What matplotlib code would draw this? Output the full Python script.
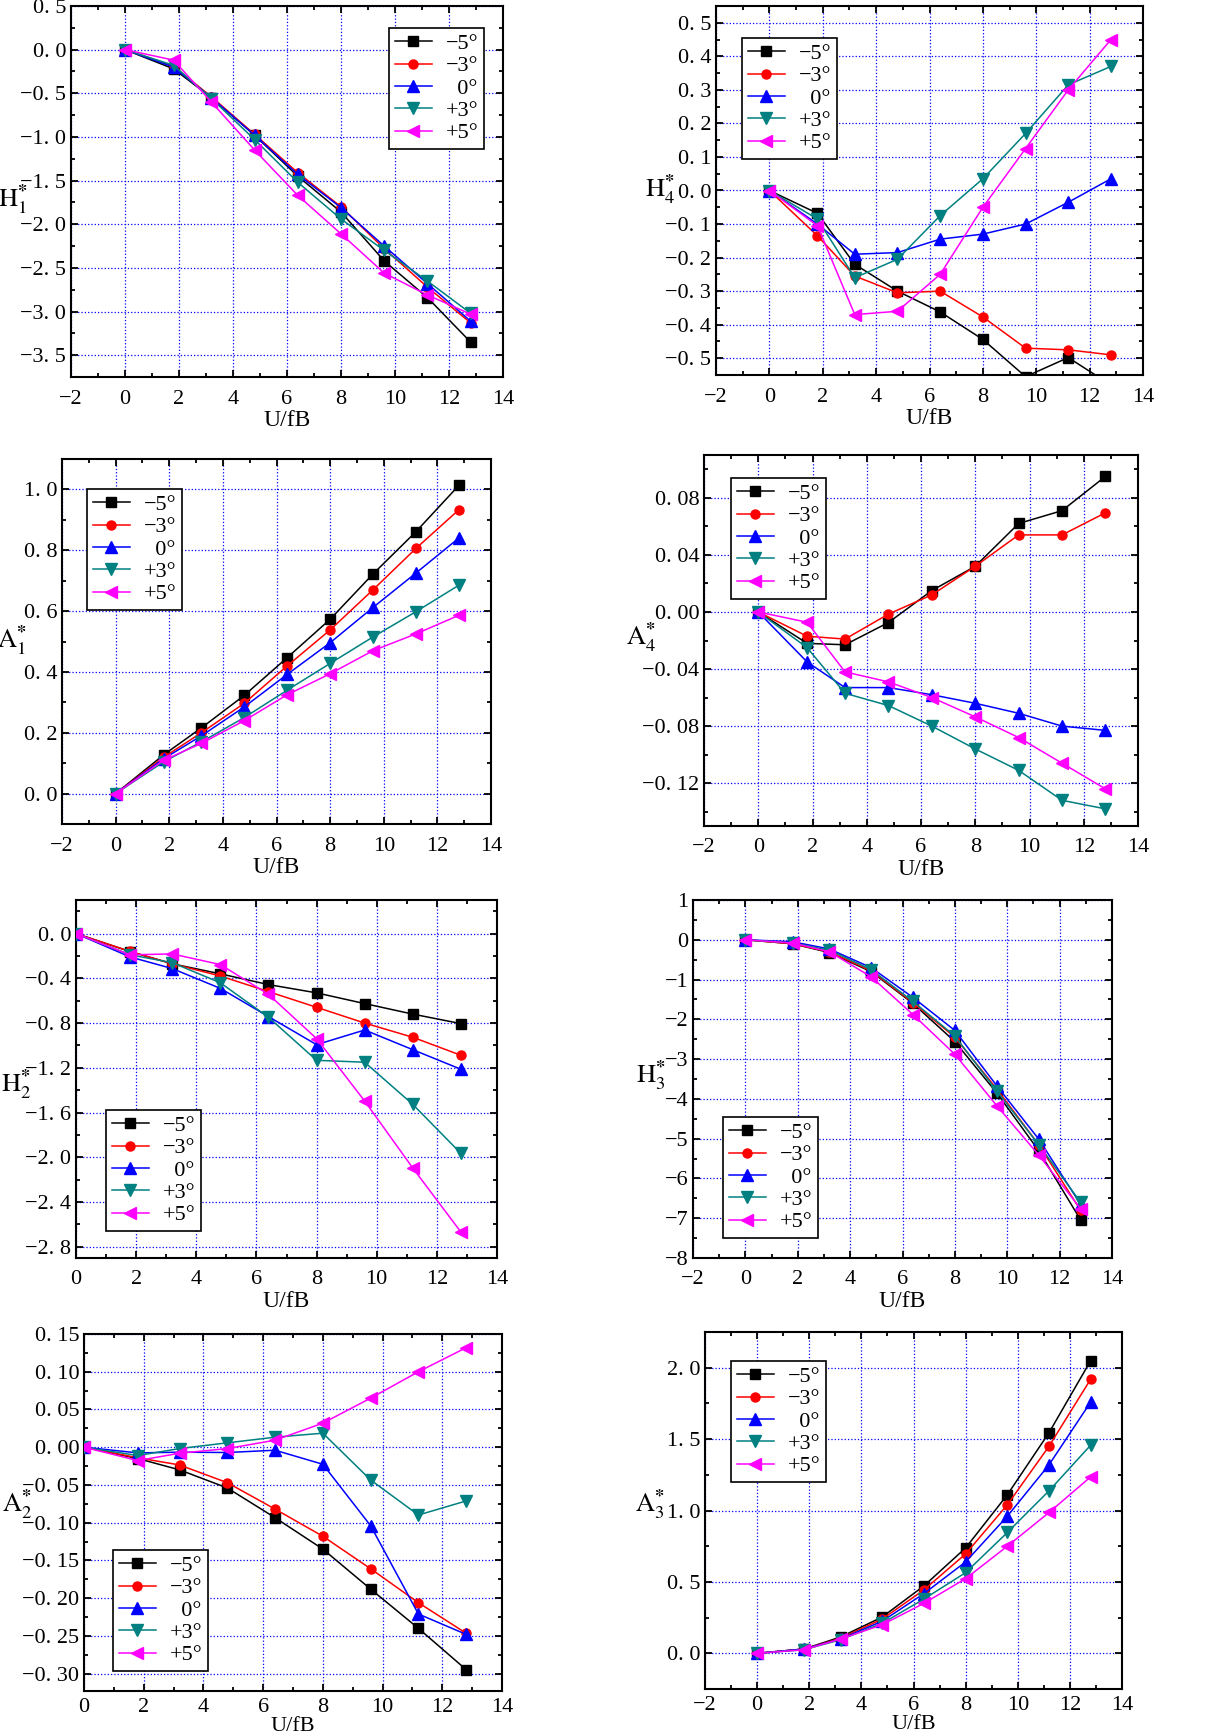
import matplotlib
matplotlib.use("Agg")
import matplotlib.pyplot as plt
from matplotlib.ticker import MultipleLocator, FuncFormatter

plt.rcParams.update({
    "font.family": "Liberation Serif",
    "mathtext.fontset": "stix",
    "font.size": 15,
})

# ---------------------------------------------------------------- data
U = [0, 1.8, 3.2, 4.8, 6.4, 8.0, 9.6, 11.2, 12.8]
LABELS = ["\u22125\u00b0", "\u22123\u00b0", "  0\u00b0", "+3\u00b0", "+5\u00b0"]

H1 = {
    "m5": [0, -0.22, -0.55, -0.98, -1.45, -1.86, -2.42, -2.84, -3.35],
    "m3": [0, -0.19, -0.54, -0.97, -1.41, -1.80, -2.28, -2.72, -3.13],
    "z0": [0, -0.20, -0.55, -0.98, -1.43, -1.81, -2.25, -2.68, -3.11],
    "p3": [0, -0.18, -0.56, -1.03, -1.52, -1.94, -2.30, -2.65, -3.02],
    "p5": [0, -0.12, -0.60, -1.15, -1.67, -2.11, -2.56, -2.81, -3.03],
}
H4 = {
    "m5": [0, -0.068, -0.22, -0.30, -0.362, -0.444, -0.555, -0.498, -0.58],
    "m3": [0, -0.135, -0.255, -0.305, -0.30, -0.377, -0.47, -0.475, -0.49],
    "z0": [0, -0.10, -0.19, -0.185, -0.145, -0.13, -0.10, -0.035, 0.035],
    "p3": [0, -0.085, -0.26, -0.205, -0.075, 0.035, 0.17, 0.315, 0.37],
    "p5": [0, -0.105, -0.37, -0.36, -0.25, -0.05, 0.125, 0.30, 0.45],
}
A1 = {
    "m5": [0, 0.128, 0.216, 0.323, 0.447, 0.573, 0.722, 0.861, 1.013],
    "m3": [0, 0.12, 0.20, 0.297, 0.42, 0.538, 0.67, 0.806, 0.933],
    "z0": [0, 0.115, 0.19, 0.285, 0.392, 0.496, 0.612, 0.725, 0.84],
    "p3": [0, 0.105, 0.17, 0.25, 0.34, 0.428, 0.515, 0.598, 0.685],
    "p5": [0, 0.11, 0.165, 0.24, 0.325, 0.394, 0.47, 0.525, 0.586],
}
A4 = {
    "m5": [0, -0.022, -0.023, -0.0074, 0.015, 0.032, 0.062, 0.071, 0.095],
    "m3": [0, -0.017, -0.019, -0.0015, 0.012, 0.032, 0.054, 0.054, 0.0695],
    "z0": [0, -0.035, -0.053, -0.053, -0.058, -0.064, -0.071, -0.080, -0.083],
    "p3": [0, -0.025, -0.057, -0.0656, -0.080, -0.096, -0.111, -0.132, -0.138],
    "p5": [0, -0.0072, -0.042, -0.049, -0.060, -0.0735, -0.088, -0.106, -0.124],
}
H2 = {
    "m5": [0, -0.161, -0.27, -0.36, -0.456, -0.53, -0.626, -0.72, -0.805],
    "m3": [0, -0.16, -0.27, -0.379, -0.519, -0.659, -0.80, -0.927, -1.088],
    "z0": [0, -0.209, -0.313, -0.49, -0.742, -0.993, -0.862, -1.038, -1.213],
    "p3": [0, -0.19, -0.26, -0.44, -0.748, -1.133, -1.15, -1.527, -1.965],
    "p5": [0, -0.19, -0.182, -0.277, -0.543, -0.939, -1.497, -2.096, -2.668],
}
H3 = {
    "m5": [0, -0.10, -0.32, -0.80, -1.60, -2.56, -3.85, -5.30, -7.04],
    "m3": [0, -0.10, -0.30, -0.78, -1.58, -2.45, -3.75, -5.15, -6.80],
    "z0": [0, -0.05, -0.23, -0.70, -1.45, -2.28, -3.67, -5.01, -6.65],
    "p3": [0, -0.08, -0.26, -0.75, -1.55, -2.42, -3.80, -5.15, -6.60],
    "p5": [0, -0.08, -0.30, -0.93, -1.88, -2.88, -4.17, -5.41, -6.76],
}
A2 = {
    "m5": [0, -0.015, -0.030, -0.054, -0.0934, -0.135, -0.188, -0.240, -0.2947],
    "m3": [0, -0.014, -0.0235, -0.047, -0.082, -0.118, -0.161, -0.206, -0.2465],
    "z0": [0, -0.0075, -0.0066, -0.007, -0.004, -0.0226, -0.104, -0.221, -0.248],
    "p3": [0, -0.011, -0.0018, 0.0058, 0.0133, 0.0186, -0.0434, -0.0898, -0.0712],
    "p5": [0, -0.0177, -0.008, -0.0018, 0.0093, 0.0319, 0.065, 0.100, 0.1319],
}
A3 = {
    "m5": [0, 0.03, 0.114, 0.254, 0.472, 0.738, 1.11, 1.545, 2.05],
    "m3": [0, 0.03, 0.105, 0.24, 0.444, 0.696, 1.04, 1.45, 1.92],
    "z0": [0, 0.03, 0.10, 0.225, 0.418, 0.64, 0.96, 1.32, 1.76],
    "p3": [0, 0.025, 0.095, 0.21, 0.38, 0.565, 0.846, 1.138, 1.458],
    "p5": [0, 0.025, 0.10, 0.20, 0.35, 0.523, 0.75, 0.986, 1.236],
}

STYLE = {
    "m5": dict(color="black",   marker="s"),
    "m3": dict(color="#ff0000", marker="o"),
    "z0": dict(color="#0000ff", marker="^"),
    "p3": dict(color="#008080", marker="v"),
    "p5": dict(color="#ff00ff", marker="<"),
}

W, H = 1232, 1736

# letter, data, sub, (left, right, top, bottom) px, xlim, ylim, ymajor, ydec,
# legend top-left px, ylabel centre px, bottom-row flag
PANELS = [
    ("H", H1, "1", (71, 503, 6, 377), (-2, 14), (-3.75, 0.5), 0.5, 1, (389, 28), (13, 200), False),
    ("H", H4, "4", (716, 1143, 6, 375), (-2, 14), (-0.55, 0.55), 0.1, 1, (742, 38), (660, 190), False),
    ("A", A1, "1", (62, 491, 459, 824), (-2, 14), (-0.1, 1.1), 0.2, 1, (87, 489), (12, 641), False),
    ("A", A4, "4", (704, 1138, 455, 826), (-2, 14), (-0.15, 0.11), 0.04, 2, (731, 478), (641, 638), False),
    ("H", H2, "2", (76, 497, 900, 1258), (0, 14), (-2.9, 0.3), 0.4, 1, (106, 1110), (16, 1085), False),
    ("H", H3, "3", (693, 1112, 900, 1258), (-2, 14), (-8, 1), 1.0, 0, (723, 1117), (651, 1076), False),
    ("A", A2, "2", (84, 502, 1334, 1691), (0, 14), (-0.323, 0.15), 0.05, 2, (113, 1550), (17, 1505), True),
    ("A", A3, "3", (705, 1122, 1332, 1689), (-2, 14), (-0.25, 2.25), 0.5, 1, (731, 1361), (650, 1505), True),
]


def make_fmt(dec):
    def f(v, pos):
        s = f"{v:.{dec}f}"
        if s.startswith("-") and float(s) == 0:
            s = s[1:]
        s = s.replace(".", ". ").replace("-", "\u2212")
        return s
    return FuncFormatter(f)


fig = plt.figure(figsize=(W / 100, H / 100), dpi=100)

for letter, data, sub, (l, r, t, b), xlim, ylim, ymaj, ydec, leg, ylab, bottom in PANELS:
    ax = fig.add_axes([l / W, 1 - b / H, (r - l) / W, (b - t) / H])
    for key, lab in zip(["m5", "m3", "z0", "p3", "p5"], LABELS):
        st = STYLE[key]
        ms = 6.5 if st["marker"] in ("s", "o") else 8
        ax.plot(U, data[key], color=st["color"], marker=st["marker"],
                markersize=ms, lw=1.1, label=lab, zorder=3)

    ax.set_xlim(*xlim)
    ax.set_ylim(*ylim)
    ax.xaxis.set_major_locator(MultipleLocator(2))
    ax.xaxis.set_minor_locator(MultipleLocator(1))
    ax.yaxis.set_major_locator(MultipleLocator(ymaj))
    ax.yaxis.set_minor_locator(MultipleLocator(ymaj / 2))
    ax.xaxis.set_major_formatter(make_fmt(0))
    ax.yaxis.set_major_formatter(make_fmt(ydec))
    ax.tick_params(which="both", direction="in", top=True, right=True,
                   width=1.3, labelsize=16)
    ax.tick_params(axis="x", which="major", pad=5 if bottom else 9)
    ax.tick_params(which="major", length=5)
    ax.tick_params(which="minor", length=3)
    for sp in ax.spines.values():
        sp.set_linewidth(1.5)
    ax.grid(True, which="major", color="#0000ff", ls=":", lw=0.9)
    ax.set_axisbelow(True)
    ax.set_xlabel("U/fB", fontsize=16 if bottom else 17, labelpad=0 if bottom else 1)

    fig.text(ylab[0] / W, 1 - ylab[1] / H,
             rf"$\mathrm{{{letter}}}_{{{sub}}}^{{\mathbf{{*}}}}$",
             fontsize=19, ha="center", va="center")

    lg = ax.legend(loc="upper left", bbox_to_anchor=(leg[0] / W, 1 - leg[1] / H),
                   bbox_transform=fig.transFigure, borderaxespad=0,
                   fancybox=False, framealpha=1, edgecolor="black",
                   fontsize=16, handlelength=1.7, labelspacing=0.08,
                   borderpad=0.25, handletextpad=0.6)
    lg.get_frame().set_linewidth(1.2)

fig.savefig("out.png", dpi=100)
